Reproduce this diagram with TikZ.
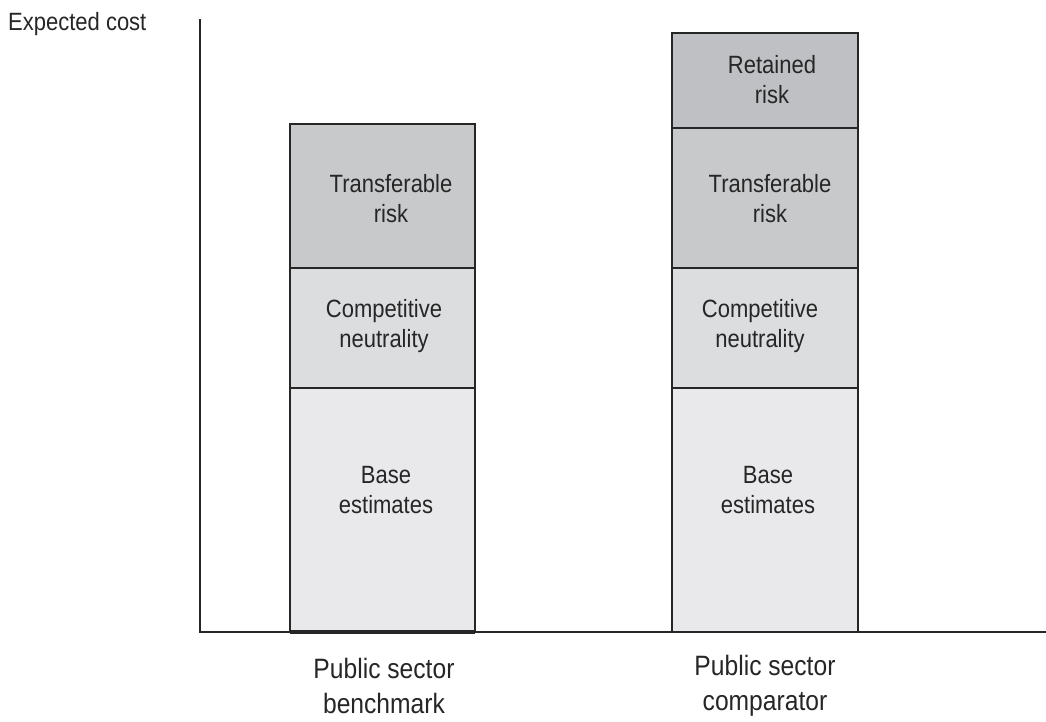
\documentclass[tikz,border=0pt]{standalone}
\usepackage{fontspec}
\setmainfont{Liberation Sans}[FakeStretch=0.88]
\usetikzlibrary{positioning}
\definecolor{retained}{HTML}{BFC0C3}
\definecolor{transfer}{HTML}{C8C9CB}
\definecolor{neutral}{HTML}{DCDDDF}
\definecolor{base}{HTML}{E9E9EB}

\begin{document}
\begin{tikzpicture}[x=1pt,y=-1pt,
  font=\fontsize{25}{30}\selectfont,
  block/.style={draw=black!85, line width=2.5pt},
  tag/.style={align=center, text=black!85, inner sep=0pt},
  barname/.style={tag, font=\fontsize{28}{35}\selectfont}]
\useasboundingbox (0,0) rectangle (1046,722);

% axes
\draw [line width=2pt, black!85] (200,19) -- (200,632) -- (1046,632);
\node [tag, anchor=west] (ylab) at (8,24) {Expected cost};

% benchmark bar
\filldraw [block, fill=base] (290,388) rectangle (475,632);
\filldraw [block, fill=neutral] (290,268) rectangle (475,388);
\filldraw [block, fill=transfer] (290,124) rectangle (475,268);
\draw [line width=4pt, black!85] (290,632) -- (475,632);
\node [tag] (bbase) at (386,490) {Base\\estimates};
\node [tag] (bneut) at (384,326) {Competitive\\neutrality};
\node [tag] (btran) at (391,199) {Transferable\\risk};
\node [barname] (bname) at (384,686) {Public sector\\benchmark};

% comparator bar
\filldraw [block, fill=base] (672,388) rectangle (858,632);
\filldraw [block, fill=neutral] (672,268) rectangle (858,388);
\filldraw [block, fill=transfer] (672,128) rectangle (858,268);
\filldraw [block, fill=retained] (672,33) rectangle (858,128);
\node [tag] (cbase) at (768,490) {Base\\estimates};
\node [tag] (cneut) at (760,326) {Competitive\\neutrality};
\node [tag] (ctran) at (770,199) {Transferable\\risk};
\node [tag] (cret) at (772,80) {Retained\\risk};
\node [barname] (cname) at (765,686) {Public sector\\comparator};
\end{tikzpicture}
\end{document}
